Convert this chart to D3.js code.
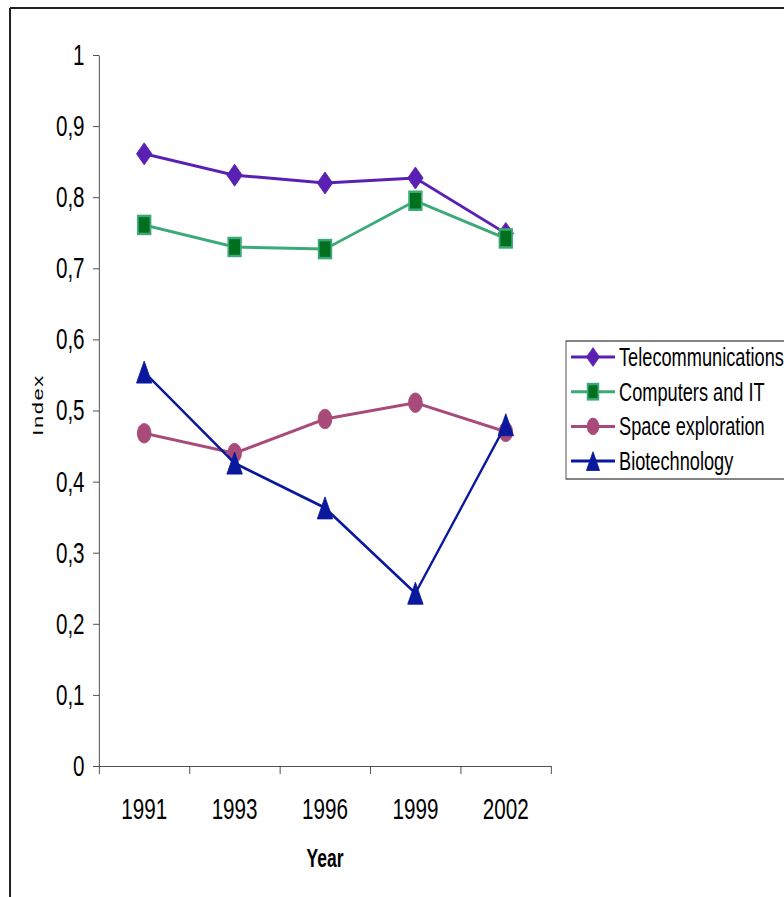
<!DOCTYPE html>
<html>
<head>
<meta charset="utf-8">
<script src="https://cdn.jsdelivr.net/npm/d3@7"></script>
<style>
  body { margin: 0; background: #fff; }
  text { font-family: "Liberation Sans", Arial, sans-serif; fill: #000; }
</style>
</head>
<body>
<div id="chart"></div>
<script>
var years = ["1991", "1993", "1996", "1999", "2002"];
var seriesNames = ["Telecommunications", "Computers and IT", "Space exploration", "Biotechnology"];
var telecom = [0.861, 0.831, 0.820, 0.827, 0.749];
var computers = [0.761, 0.730, 0.727, 0.795, 0.742];
var space = [0.468, 0.440, 0.488, 0.511, 0.470];
var biotech = [0.554, 0.426, 0.363, 0.243, 0.480];
var yTicks = [0, 0.1, 0.2, 0.3, 0.4, 0.5, 0.6, 0.7, 0.8, 0.9, 1];

// the whole picture is squeezed sideways, so draw wide and scale x
var sx = 0.7;

var series = [
  {name: seriesNames[0], values: telecom, line: "#5a20b4", fill: "#5a20b4", stroke: "#5a20b4", shape: "diamond"},
  {name: seriesNames[1], values: computers, line: "#3caa78", fill: "#00701e", stroke: "#3caa78", shape: "square"},
  {name: seriesNames[2], values: space, line: "#a84a7a", fill: "#a84a7a", stroke: "#a84a7a", shape: "circle"},
  {name: seriesNames[3], values: biotech, line: "#0a189e", fill: "#0a189e", stroke: "#0a189e", shape: "triangle"}
];

var svg = d3.select("#chart")
  .append("svg")
  .attr("width", 784)
  .attr("height", 897);

// outer frame (only left and top show)
svg.append("line").attr("x1", 10).attr("y1", 8).attr("x2", 10).attr("y2", 897)
  .attr("stroke", "#222").attr("stroke-width", 2);
svg.append("line").attr("x1", 10).attr("y1", 8).attr("x2", 784).attr("y2", 8)
  .attr("stroke", "#222").attr("stroke-width", 2);

var g = svg.append("g").attr("transform", "scale(" + sx + ",1)");

var x = d3.scaleBand().domain(years).range([99 / sx, 551 / sx]);
var xEdge = d3.scaleLinear().domain([0, years.length]).range([99 / sx, 551 / sx]);
var y = d3.scaleLinear().domain([0, 1]).range([766, 55]);

function fmt(d) {
  if (d === 0) return "0";
  if (d === 1) return "1";
  return d3.format(".1f")(d).replace(".", ",");
}

// y axis
var yAxis = g.append("g")
  .attr("transform", "translate(" + (99 / sx) + ",0)")
  .call(d3.axisLeft(y).tickValues(yTicks).tickFormat(fmt)
    .tickSize(6 / sx).tickSizeOuter(0).tickPadding(12));
yAxis.selectAll("text").style("font-size", "29.5px");
yAxis.select(".domain").attr("stroke", "#333");
yAxis.selectAll(".tick line").attr("stroke", "#333");

// x axis: tick marks on category edges, labels on centres
var xTicks = g.append("g")
  .attr("transform", "translate(0,766)")
  .call(d3.axisBottom(xEdge).tickValues(d3.range(years.length + 1))
    .tickFormat("").tickSize(8).tickSizeOuter(0));
xTicks.select(".domain").attr("stroke", "#333");
xTicks.selectAll(".tick line").attr("stroke", "#333");

var xLabels = g.append("g")
  .attr("transform", "translate(0,766)")
  .call(d3.axisBottom(x).tickSize(0).tickPadding(32));
xLabels.select(".domain").remove();
xLabels.selectAll("text").style("font-size", "29.5px");

g.append("text")
  .attr("x", 325 / sx)
  .attr("y", 867)
  .attr("text-anchor", "middle")
  .style("font-size", "25px")
  .style("font-weight", "bold")
  .text("Year");

g.append("text")
  .attr("transform", "translate(" + (38 / sx) + ",405)rotate(-90)")
  .attr("text-anchor", "middle")
  .attr("dy", "0.35em")
  .style("font-size", "22px")
  .style("letter-spacing", "1.5px")
  .text("Index");

function marker(sel, shape, cx, cy, k, s) {
  var h = 11 * k;
  if (shape === "diamond") {
    sel.append("path")
      .attr("d", "M" + cx + "," + (cy - h) + "L" + (cx + h) + "," + cy + "L" + cx + "," + (cy + h) + "L" + (cx - h) + "," + cy + "Z")
      .attr("fill", s.fill).attr("stroke", s.stroke).attr("stroke-width", 1);
  } else if (shape === "square") {
    sel.append("rect")
      .attr("x", cx - 9 * k).attr("y", cy - 9 * k)
      .attr("width", 18 * k).attr("height", 18 * k)
      .attr("fill", s.fill).attr("stroke", s.stroke).attr("stroke-width", 2.5);
  } else if (shape === "circle") {
    sel.append("circle")
      .attr("cx", cx).attr("cy", cy).attr("r", 9.8 * k)
      .attr("fill", s.fill).attr("stroke", s.stroke).attr("stroke-width", 1);
  } else {
    sel.append("path")
      .attr("d", "M" + cx + "," + (cy - h) + "L" + (cx + h) + "," + (cy + h) + "L" + (cx - h) + "," + (cy + h) + "Z")
      .attr("fill", s.fill).attr("stroke", s.stroke).attr("stroke-width", 1);
  }
}

var line = d3.line()
  .x(function(d, i) { return x(years[i]) + x.bandwidth() / 2; })
  .y(function(d) { return y(d); });

series.forEach(function(s) {
  var sg = g.append("g").attr("class", "series");
  sg.append("path")
    .attr("d", line(s.values))
    .attr("fill", "none")
    .attr("stroke", s.line)
    .attr("stroke-width", 3);
  s.values.forEach(function(v, i) {
    marker(sg, s.shape, x(years[i]) + x.bandwidth() / 2, y(v), 1, s);
  });
});

// legend
var legend = g.append("g").attr("class", "legend");
legend.append("rect")
  .attr("x", 566 / sx)
  .attr("y", 341)
  .attr("width", 240 / sx)
  .attr("height", 138)
  .attr("fill", "#fff")
  .attr("stroke", "#333")
  .attr("stroke-width", 1.2);

legend.selectAll("g.item").data(series)
  .enter()
  .append("g")
  .attr("class", "item")
  .each(function(s, i) {
    var item = d3.select(this);
    var ry = 357 + i * 34.7;
    item.append("line")
      .attr("x1", 571 / sx).attr("x2", 615 / sx)
      .attr("y1", ry).attr("y2", ry)
      .attr("stroke", s.line).attr("stroke-width", 3);
    marker(item, s.shape, 593 / sx, ry, 0.85, s);
    item.append("text")
      .attr("x", 619 / sx)
      .attr("y", ry)
      .attr("dy", "0.35em")
      .style("font-size", "26px")
      .text(s.name);
  });
</script>
</body>
</html>
